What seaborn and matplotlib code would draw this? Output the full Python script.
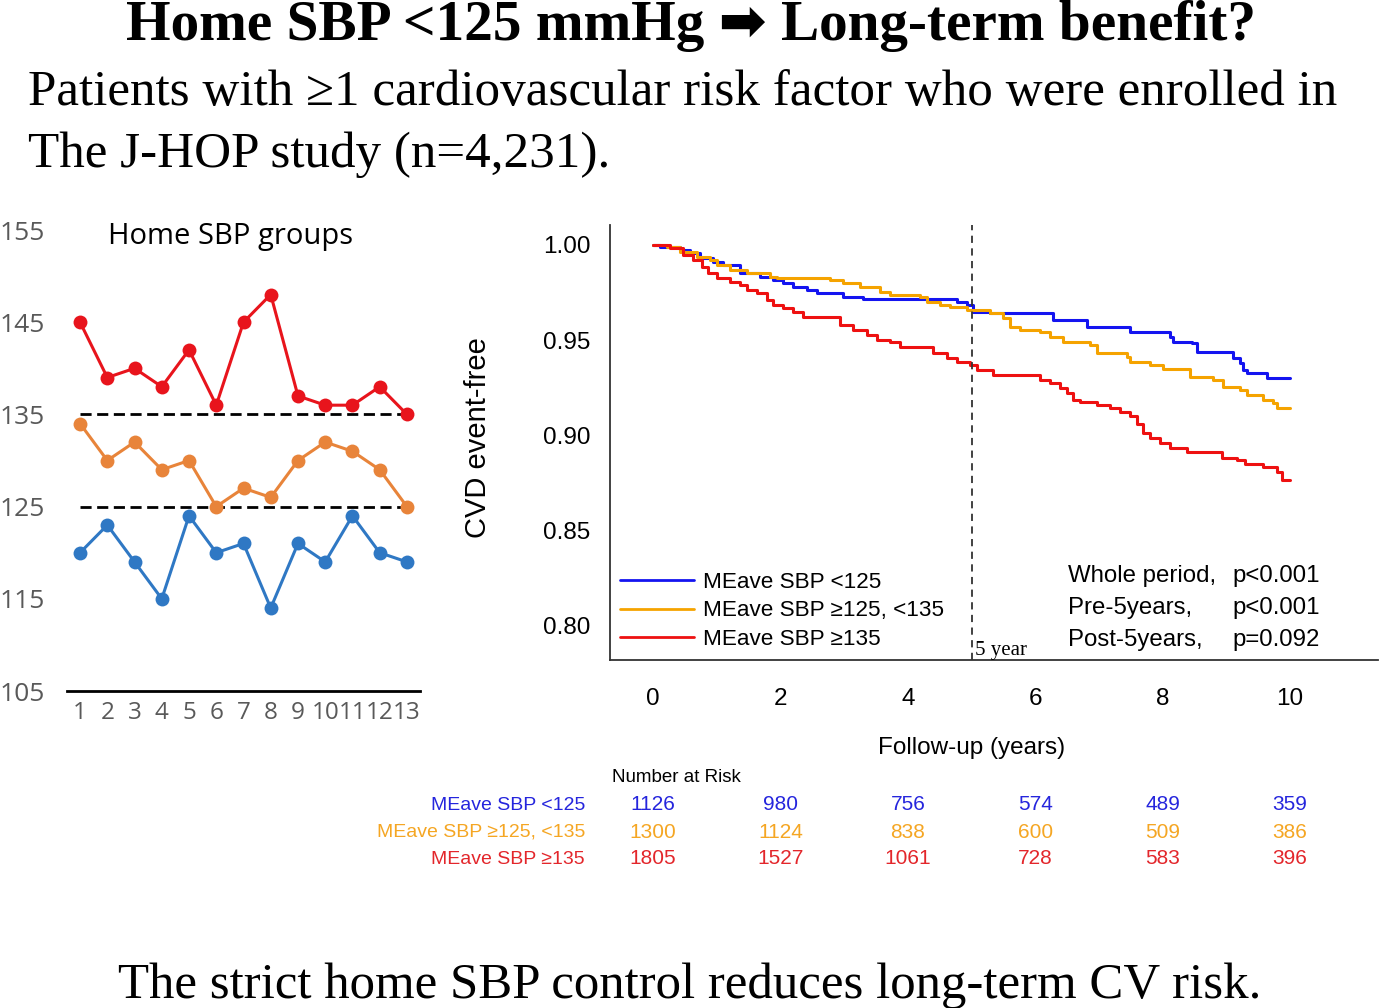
import numpy as np
import pandas as pd
import matplotlib
matplotlib.use("Agg")
import matplotlib.pyplot as plt
import matplotlib.transforms as mtransforms
import seaborn as sns

# -----------------------------
# Data: home SBP by visit (left panel)
# -----------------------------
visits = list(range(1, 14))
sbp_high = [145, 139, 140, 138, 142, 136, 145, 148, 137, 136, 136, 138, 135]
sbp_mid = [134, 130, 132, 129, 130, 125, 127, 126, 130, 132, 131, 129, 125]
sbp_low = [120, 123, 119, 115, 124, 120, 121, 114, 121, 119, 124, 120, 119]
thresholds = [125, 135]

# -----------------------------
# Data: Kaplan-Meier curves (right panel)
# -----------------------------
groups = ["MEave SBP <125", "MEave SBP \u2265125, <135", "MEave SBP \u2265135"]
km_low_t = [0.00, 0.11, 0.42, 0.58, 0.74, 0.94, 1.10, 1.37, 1.68, 1.88, 2.04, 2.20,
            2.42, 2.57, 2.98, 3.30, 4.77, 4.93, 5.02, 5.29, 6.28, 6.81, 7.49, 8.12,
            8.16, 8.46, 8.54, 9.10, 9.21, 9.26, 9.32, 9.64, 10.00]
km_low_s = [1.000, 0.9990, 0.9974, 0.9958, 0.9932, 0.9911, 0.9895, 0.9853, 0.9832, 0.9816,
            0.9800, 0.9779, 0.9763, 0.9747, 0.9726, 0.9716, 0.9700, 0.9684, 0.9647, 0.9642,
            0.9605, 0.9568, 0.9542, 0.9516, 0.9489, 0.9484, 0.9437, 0.9405, 0.9379, 0.9342,
            0.9326, 0.9300, 0.9300]
km_mid_t = [0.00, 0.22, 0.42, 0.69, 0.89, 1.00, 1.21, 1.48, 1.84, 1.95, 2.78, 2.98,
            3.25, 3.56, 3.72, 4.19, 4.30, 4.51, 4.66, 4.93, 5.29, 5.49, 5.60, 5.76,
            6.08, 6.23, 6.44, 6.86, 6.97, 7.44, 7.49, 7.80, 8.00, 8.43, 8.79, 8.95,
            9.21, 9.32, 9.58, 9.73, 9.80, 10.00]
km_mid_s = [1.000, 0.9990, 0.9963, 0.9937, 0.9921, 0.9895, 0.9868, 0.9853, 0.9832, 0.9826,
            0.9816, 0.9800, 0.9779, 0.9753, 0.9737, 0.9726, 0.9700, 0.9684, 0.9674, 0.9658,
            0.9642, 0.9616, 0.9568, 0.9553, 0.9542, 0.9516, 0.9489, 0.9474, 0.9432, 0.9411,
            0.9384, 0.9368, 0.9347, 0.9305, 0.9289, 0.9253, 0.9237, 0.9211, 0.9184, 0.9168,
            0.9142, 0.9142]
km_high_t = [0.00, 0.27, 0.47, 0.63, 0.77, 0.86, 1.00, 1.21, 1.37, 1.48, 1.63, 1.79,
             1.88, 2.04, 2.20, 2.35, 2.94, 3.14, 3.36, 3.52, 3.72, 3.88, 4.40, 4.62,
             4.77, 4.98, 5.09, 5.34, 6.08, 6.23, 6.39, 6.50, 6.59, 6.70, 6.97, 7.17,
             7.33, 7.49, 7.60, 7.69, 7.80, 7.96, 8.12, 8.38, 8.93, 9.17, 9.29, 9.58,
             9.80, 9.87, 10.00]
km_high_s = [1.000, 0.9983, 0.9947, 0.9921, 0.9884, 0.9853, 0.9826, 0.9805, 0.9789, 0.9763,
             0.9747, 0.9711, 0.9684, 0.9668, 0.9647, 0.9621, 0.9579, 0.9553, 0.9526, 0.9500,
             0.9489, 0.9463, 0.9432, 0.9405, 0.9384, 0.9368, 0.9342, 0.9316, 0.9289, 0.9274,
             0.9247, 0.9221, 0.9184, 0.9174, 0.9158, 0.9142, 0.9121, 0.9100, 0.9058, 0.9011,
             0.8984, 0.8958, 0.8932, 0.8911, 0.8879, 0.8868, 0.8847, 0.8832, 0.8805, 0.8763,
             0.8763]

# number at risk
risk_years = [0, 2, 4, 6, 8, 10]
risk_low = [1126, 980, 756, 574, 489, 359]
risk_mid = [1300, 1124, 838, 600, 509, 386]
risk_high = [1805, 1527, 1061, 728, 583, 396]

p_labels = ["Whole period,", "Pre-5years,", "Post-5years,"]
p_values = ["p<0.001", "p<0.001", "p=0.092"]

# -----------------------------
# Figure
# -----------------------------
sns.set_style("white")
plt.rcParams["text.color"] = "black"
plt.rcParams["xtick.labelcolor"] = "black"
plt.rcParams["ytick.labelcolor"] = "black"
W, H = 1379, 1008
fig = plt.figure(figsize=(W / 100, H / 100), dpi=100)


def fx(x):
    return x / W


def fy(y):
    return 1 - y / H


serif = ["Liberation Serif", "DejaVu Serif"]
sans = ["Liberation Sans", "DejaVu Sans"]

fig.text(fx(691), fy(40), "Home SBP <125 mmHg \u27A1 Long-term benefit?",
         ha="center", va="baseline", fontsize=41.2, fontweight="bold",
         family=["Liberation Serif", "DejaVu Sans"])
fig.text(fx(28), fy(105), "Patients with \u22651 cardiovascular risk factor who were enrolled in",
         ha="left", va="baseline", fontsize=36.8, family=serif)
fig.text(fx(28), fy(167), "The J-HOP study (n=4,231).",
         ha="left", va="baseline", fontsize=36.8, family=serif)
fig.text(fx(690), fy(998), "The strict home SBP control reduces long-term CV risk.",
         ha="center", va="baseline", fontsize=36.6, family=serif)

# ---- left panel ----
ax1 = fig.add_axes([fx(67), fy(691), (420 - 67) / W, (691 - 230) / H])
left_df = pd.DataFrame({
    "visit": visits * 3,
    "sbp": sbp_high + sbp_mid + sbp_low,
    "group": ["high"] * 13 + ["mid"] * 13 + ["low"] * 13,
})
left_pal = {"high": "#e8141c", "mid": "#e8843a", "low": "#2f78c4"}
sns.lineplot(data=left_df, x="visit", y="sbp", hue="group", palette=left_pal,
             marker="o", markersize=10, markeredgewidth=0, linewidth=2.2,
             legend=False, ax=ax1)
for th in thresholds:
    ax1.plot([visits[0], visits[-1]], [th, th], color="black", lw=2,
             linestyle=(0, (4, 2)), zorder=1)
ax1.set_xlim(0.52, 13.48)
ax1.set_ylim(105, 155)
ax1.set_yticks([105, 115, 125, 135, 145, 155])
ax1.set_xticks(visits)
ax1.set_xlabel("")
ax1.set_ylabel("")
for s in ["top", "right", "left"]:
    ax1.spines[s].set_visible(False)
ax1.spines["bottom"].set_color("black")
ax1.spines["bottom"].set_linewidth(2)
ax1.tick_params(axis="y", length=0, pad=16, labelsize=19, labelcolor="#595959")
ax1.tick_params(axis="x", length=0, pad=7, labelsize=17.5, labelcolor="#595959")
for lab in ax1.get_xticklabels() + ax1.get_yticklabels():
    lab.set_family(["Open Sans", "DejaVu Sans"])
ax1.text(0.462, 0.985, "Home SBP groups", transform=ax1.transAxes, ha="center",
         va="center", fontsize=21, family=["Open Sans", "DejaVu Sans"])

# ---- right panel: KM curves ----
ax2 = fig.add_axes([fx(610), fy(660), (1378 - 610) / W, (660 - 225) / H])
km_colors = ["#1414f0", "#f5a300", "#ee1111"]
km_data = [(km_low_t, km_low_s), (km_mid_t, km_mid_s), (km_high_t, km_high_s)]
for (t, s), name, col in zip(km_data, groups, km_colors):
    sns.lineplot(x=t, y=s, color=col, linewidth=2.2, drawstyle="steps-post",
                 estimator=None, sort=False, label=name, ax=ax2)
ax2.axvline(5, color="#333333", lw=1.3, linestyle=(0, (4, 3)))
ax2.set_xlim(-0.675, 11.38)
ax2.set_ylim(0.782, 1.0105)
ax2.set_xticks([0, 2, 4, 6, 8, 10])
ax2.set_yticks([0.80, 0.85, 0.90, 0.95, 1.00])
ax2.set_yticklabels(["0.80", "0.85", "0.90", "0.95", "1.00"])
for s in ["top", "right"]:
    ax2.spines[s].set_visible(False)
for s in ["left", "bottom"]:
    ax2.spines[s].set_color("#333333")
    ax2.spines[s].set_linewidth(1.3)
ax2.tick_params(axis="both", which="major", direction="out", length=8, width=1.3,
                color="#333333", labelsize=17.5, labelcolor="black")
ax2.tick_params(axis="x", pad=12)
ax2.tick_params(axis="y", pad=6)
for lab in ax2.get_xticklabels() + ax2.get_yticklabels():
    lab.set_family(sans)
ax2.set_xlabel("")
ax2.set_ylabel("")
fig.text(fx(478), fy(438), "CVD event-free", rotation=90, ha="center", va="center",
         fontsize=21, family=sans)
fig.text(fx(972), fy(748), "Follow-up (years)", ha="center", va="center",
         fontsize=17.5, family=sans)

leg = ax2.legend(loc="lower left", bbox_to_anchor=(0.0, 0.0), frameon=False,
                 handlelength=3.3, handletextpad=0.4, labelspacing=0.33,
                 borderaxespad=0.0, borderpad=0.45, prop={"family": sans, "size": 16.2})
for line in leg.get_lines():
    line.set_linewidth(2)
for txt in leg.get_texts():
    txt.set_color("black")

ax2.text(5.05, 0.7848, "5 year", ha="left", va="baseline", fontsize=15, family=serif)

for i, (lab, pv) in enumerate(zip(p_labels, p_values)):
    y = fy(576 + 32 * i)
    fig.text(fx(1068), y, lab, ha="left", va="center", fontsize=17.3, family=sans)
    fig.text(fx(1320), y, pv, ha="right", va="center", fontsize=17.3, family=sans)

# ---- number at risk table ----
trans = mtransforms.blended_transform_factory(ax2.transData, fig.transFigure)
fig.text(fx(612), fy(777), "Number at Risk", ha="left", va="center", fontsize=13.5,
         family=sans)
risk_colors = ["#2525dd", "#f5a623", "#e3262b"]
for j, (name, vals, col) in enumerate(zip(groups, [risk_low, risk_mid, risk_high], risk_colors)):
    y = fy(805 + 27 * j)
    fig.text(fx(585), y, name, ha="right", va="center", fontsize=14, color=col, family=sans)
    for yr, v in zip(risk_years, vals):
        ax2.text(yr, y, str(v), transform=trans, ha="center", va="center",
                 fontsize=15, color=col, family=sans)

fig.savefig("out.png", dpi=100)
